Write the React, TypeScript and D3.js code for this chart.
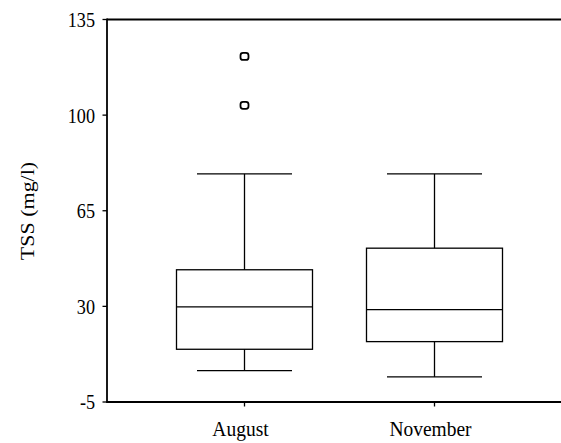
import React from "react";
import * as d3 from "d3";

const categories = ["August", "November"];
const whiskerLow = [6.5, 4.2];
const q1 = [14.3, 17.1];
const median = [29.8, 28.8];
const q3 = [43.4, 51.3];
const whiskerHigh = [78.5, 78.5];
const outliers = [[103.6, 121.5], []];
const yTicks = [-5, 30, 65, 100, 135];
const yLabel = "TSS (mg/l)";

const W = 561;
const H = 443;
const FONT = "'Liberation Serif', 'Times New Roman', serif";
const SX = 0.86;

export default function App() {
  const left = 107;
  const right = 561;
  const y = d3.scaleLinear().domain([-5, 135]).range([402, 19.5]);
  const x = d3.scalePoint<string>().domain(categories).range([244.5, 434.5]);
  const boxHalf = 68;
  const capHalf = 47.5;
  const bottom = y(-5);
  const top = y(135);

  return (
    <svg width={W} height={H} style={{ position: "absolute", left: 0, top: 0, background: "#fff" }}>
      <rect x={0} y={0} width={W} height={H} fill="#fff" />
      <line x1={left} x2={right} y1={top} y2={top} stroke="#000" strokeWidth={1.8} />
      <line x1={left} x2={right} y1={bottom} y2={bottom} stroke="#000" strokeWidth={1.8} />
      <line x1={left} x2={left} y1={top - 0.9} y2={bottom + 0.9} stroke="#000" strokeWidth={1.8} />
      {yTicks.map((t) => (
        <g key={t}>
          <line x1={left - 4.5} x2={left} y1={y(t)} y2={y(t)} stroke="#000" strokeWidth={1.3} />
          <text
            transform={`translate(95,${y(t)}) scale(${SX * 0.96},1)`}
            textAnchor="end"
            dy="0.34em"
            fontFamily={FONT}
            fontSize={22}
            fill="#000"
          >
            {t}
          </text>
        </g>
      ))}
      {categories.map((c) => (
        <g key={c}>
          <line x1={x(c)!} x2={x(c)!} y1={bottom} y2={bottom + 4.5} stroke="#000" strokeWidth={1.3} />
          <text
            transform={`translate(${x(c)! - 4},436) scale(${SX * 1.03},1)`}
            textAnchor="middle"
            fontFamily={FONT}
            fontSize={22}
            fill="#000"
          >
            {c}
          </text>
        </g>
      ))}
      <text
        transform={`translate(34,211) scale(0.84,1) rotate(-90)`}
        textAnchor="middle"
        fontFamily={FONT}
        fontSize={22}
        fill="#000"
      >
        {yLabel}
      </text>
      {categories.map((c, i) => {
        const cx = x(c)!;
        return (
          <g key={c} stroke="#000" strokeWidth={1.3} fill="none">
            <line x1={cx} x2={cx} y1={y(whiskerHigh[i])} y2={y(q3[i])} />
            <line x1={cx} x2={cx} y1={y(q1[i])} y2={y(whiskerLow[i])} />
            <line x1={cx - capHalf} x2={cx + capHalf} y1={y(whiskerHigh[i])} y2={y(whiskerHigh[i])} />
            <line x1={cx - capHalf} x2={cx + capHalf} y1={y(whiskerLow[i])} y2={y(whiskerLow[i])} />
            <rect x={cx - boxHalf} y={y(q3[i])} width={boxHalf * 2} height={y(q1[i]) - y(q3[i])} />
            <line x1={cx - boxHalf} x2={cx + boxHalf} y1={y(median[i])} y2={y(median[i])} />
            {outliers[i].map((o, k) => (
              <rect key={k} x={cx - 4} y={y(o) - 3.5} width={8} height={7} rx={2.5} strokeWidth={1.8} />
            ))}
          </g>
        );
      })}
    </svg>
  );
}
